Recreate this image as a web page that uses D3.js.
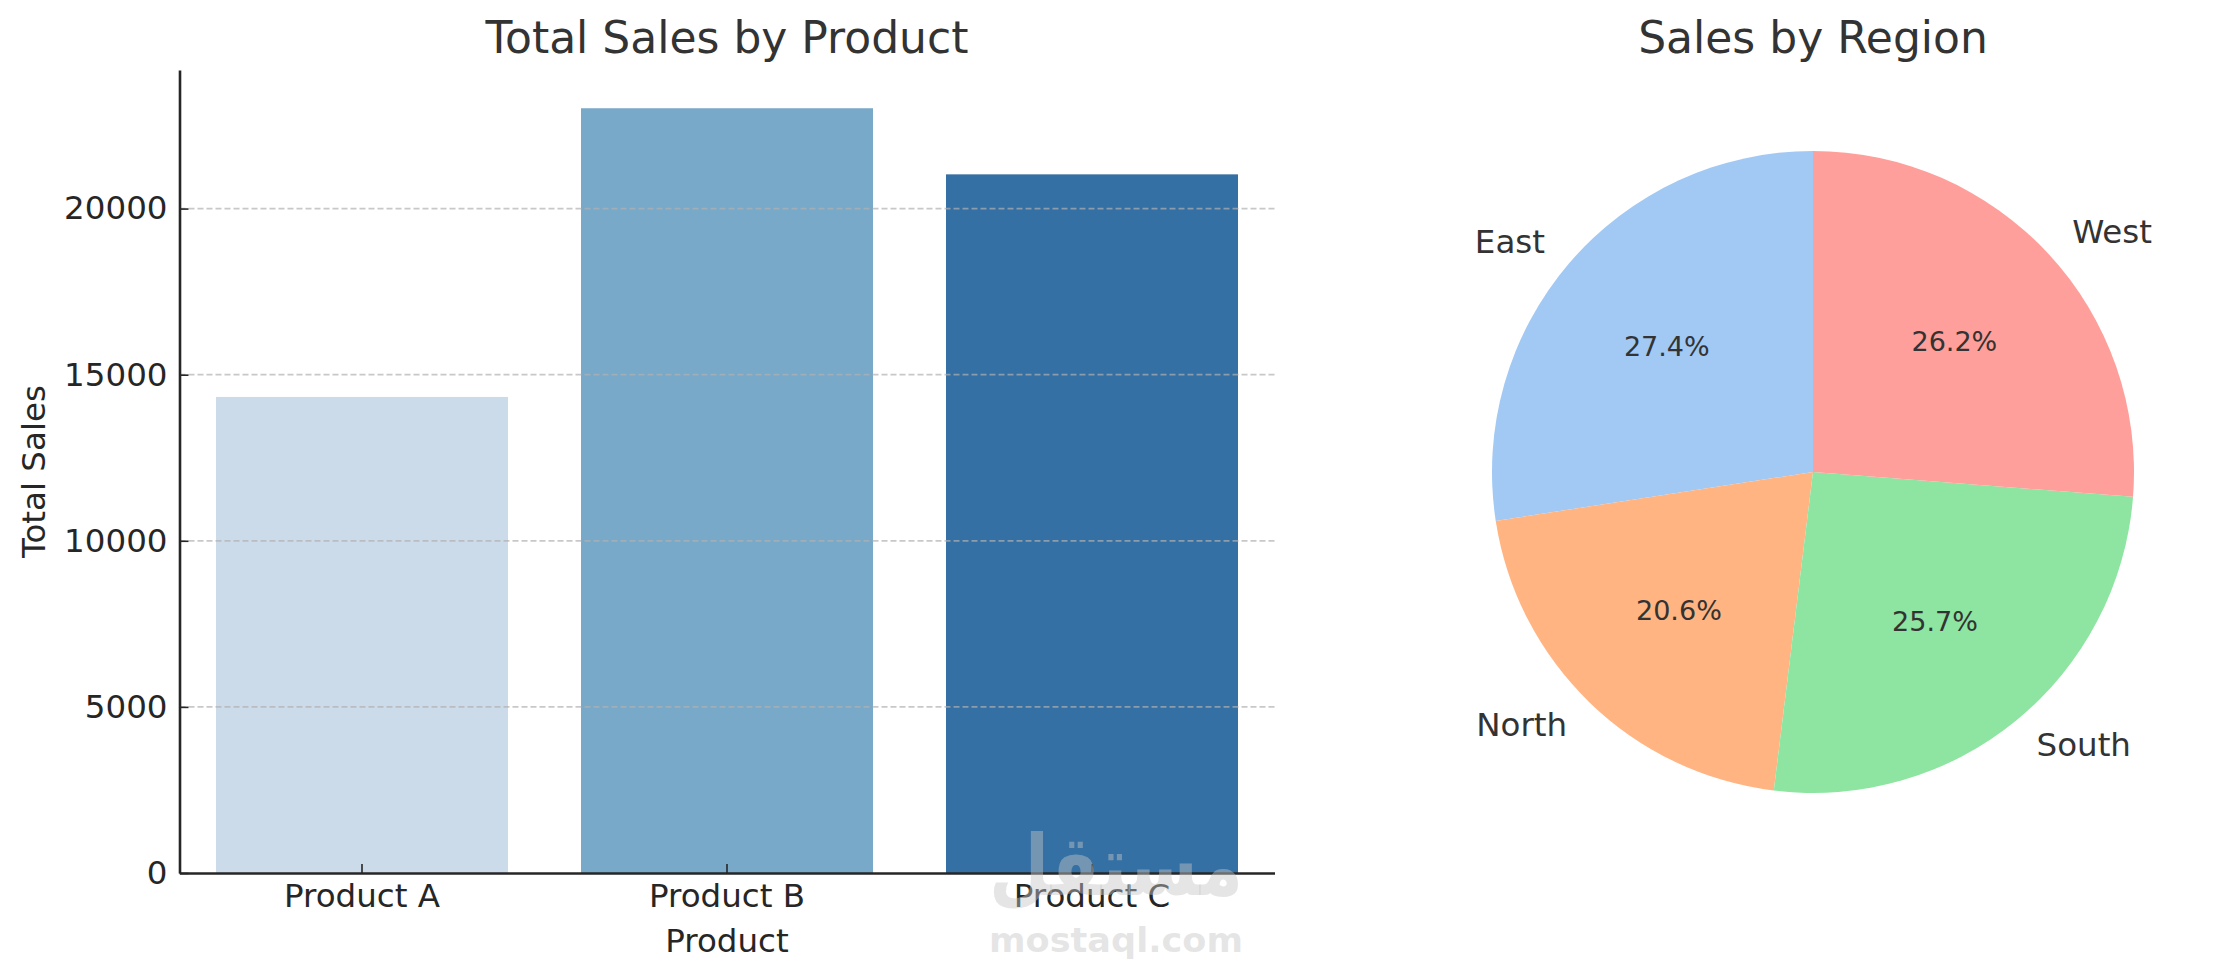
<!DOCTYPE html>
<html>
<head>
<meta charset="utf-8">
<script src="https://cdn.jsdelivr.net/npm/d3@7"></script>
<style>
  body { margin: 0; background: #fff; }
  text { font-family: "DejaVu Sans", sans-serif; }
</style>
</head>
<body>
<div class="charts"></div>
<script>
const products = ["Product A", "Product B", "Product C"];
const productSales = [14330, 23020, 21030];
const barColors = ["#cbdbea", "#79a9c8", "#3470a3"];
const yTicks = [0, 5000, 10000, 15000, 20000];

const regions = ["East", "North", "South", "West"];
const regionSales = [15980, 12010, 14980, 15280];
const pieColors = ["#a1c9f4", "#ffb482", "#8de5a1", "#ff9f9b"];

const width = 2234;
const height = 980;

const svg = d3.select('.charts')
    .append('svg')
    .attr('width', width)
    .attr('height', height)

// ---- bar chart ----
const x = d3.scaleBand()
    .domain(products)
    .range([179.5, 1274.5])
    .paddingInner(0.2)
    .paddingOuter(0.1);

const y = d3.scaleLinear()
    .domain([0, d3.max(productSales) * 1.05])
    .range([873, 70]);

svg.selectAll("rect.bar")
    .data(products)
    .enter()
    .append("rect")
    .attr("class", "bar")
    .attr("x", d => x(d))
    .attr("y", (d, i) => y(productSales[i]))
    .attr("width", x.bandwidth())
    .attr("height", (d, i) => y(0) - y(productSales[i]))
    .attr("fill", (d, i) => barColors[i]);

// grid on top of bars, like the original
svg.selectAll("line.grid")
    .data(yTicks.filter(t => t > 0))
    .enter()
    .append("line")
    .attr("class", "grid")
    .attr("x1", 179.5)
    .attr("x2", 1274.5)
    .attr("y1", d => y(d))
    .attr("y2", d => y(d))
    .attr("stroke", "#b0b0b0")
    .attr("stroke-opacity", 0.7)
    .attr("stroke-width", 1.8)
    .attr("stroke-dasharray", "6,3");

const yAxis = svg.append("g")
    .attr("transform", "translate(179.5,0)")
    .call(d3.axisLeft(y).tickValues(yTicks).tickFormat(d3.format("d"))
        .tickSizeInner(-9).tickSizeOuter(0).tickPadding(12));

const xAxis = svg.append("g")
    .attr("transform", "translate(0,873)")
    .call(d3.axisBottom(x).tickSizeInner(-9).tickSizeOuter(0).tickPadding(11));

[xAxis, yAxis].forEach(g => {
    g.select(".domain").attr("stroke", "#262626").attr("stroke-width", 2.6);
    g.selectAll(".tick line").attr("stroke", "#262626").attr("stroke-width", 1.6);
    g.selectAll(".tick text")
        .attr("fill", "#262626")
        .style("font-size", "32.5px")
        .style("font-family", "DejaVu Sans");
});

svg.append("text")
    .attr("x", 727)
    .attr("y", 53)
    .attr("text-anchor", "middle")
    .attr("fill", "#333")
    .style("font-size", "44px")
    .text("Total Sales by Product");

svg.append("text")
    .attr("x", 727)
    .attr("y", 952)
    .attr("text-anchor", "middle")
    .attr("fill", "#262626")
    .style("font-size", "32.5px")
    .text("Product");

svg.append("text")
    .attr("transform", "translate(45,471.5) rotate(-90)")
    .attr("text-anchor", "middle")
    .attr("fill", "#262626")
    .style("font-size", "32.5px")
    .text("Total Sales");

// ---- pie chart ----
const cx = 1813, cy = 472, r = 321;

const pie = d3.pie()
    .sort(null)
    .startAngle(0)
    .endAngle(-2 * Math.PI);

const arcs = pie(regionSales);
const arc = d3.arc().innerRadius(0).outerRadius(r);

const pieG = svg.append("g")
    .attr("transform", `translate(${cx},${cy})`);

pieG.selectAll("path")
    .data(arcs)
    .enter()
    .append("path")
    .attr("d", arc)
    .attr("fill", (d, i) => pieColors[i]);

const total = d3.sum(regionSales);
const mid = d => (d.startAngle + d.endAngle) / 2;

pieG.selectAll("text.pct")
    .data(arcs)
    .enter()
    .append("text")
    .attr("class", "pct")
    .attr("x", d => Math.sin(mid(d)) * r * 0.6)
    .attr("y", d => -Math.cos(mid(d)) * r * 0.6)
    .attr("text-anchor", "middle")
    .attr("dominant-baseline", "central")
    .attr("fill", "#333")
    .style("font-size", "27px")
    .text(d => (d.value / total * 100).toFixed(1) + "%");

pieG.selectAll("text.lbl")
    .data(arcs)
    .enter()
    .append("text")
    .attr("class", "lbl")
    .attr("x", d => Math.sin(mid(d)) * r * 1.1)
    .attr("y", d => -Math.cos(mid(d)) * r * 1.1)
    .attr("text-anchor", d => Math.sin(mid(d)) < 0 ? "end" : "start")
    .attr("dominant-baseline", "central")
    .attr("fill", "#333")
    .style("font-size", "32.5px")
    .text((d, i) => regions[i]);

svg.append("text")
    .attr("x", cx)
    .attr("y", 53)
    .attr("text-anchor", "middle")
    .attr("fill", "#333")
    .style("font-size", "44px")
    .text("Sales by Region");

// ---- watermark ----
const wm = svg.append("g")
    .attr("fill", "#c5c5c5")
    .attr("fill-opacity", 0.45)
    .style("font-weight", "bold");

wm.append("text")
    .attr("x", 989)
    .attr("y", 895)
    .attr("textLength", 254)
    .attr("lengthAdjust", "spacingAndGlyphs")
    .style("font-size", "84px")
    .text("مستقل");

wm.append("text")
    .attr("x", 989)
    .attr("y", 952)
    .attr("textLength", 254)
    .attr("lengthAdjust", "spacingAndGlyphs")
    .style("font-size", "34px")
    .text("mostaql.com");
</script>
</body>
</html>
